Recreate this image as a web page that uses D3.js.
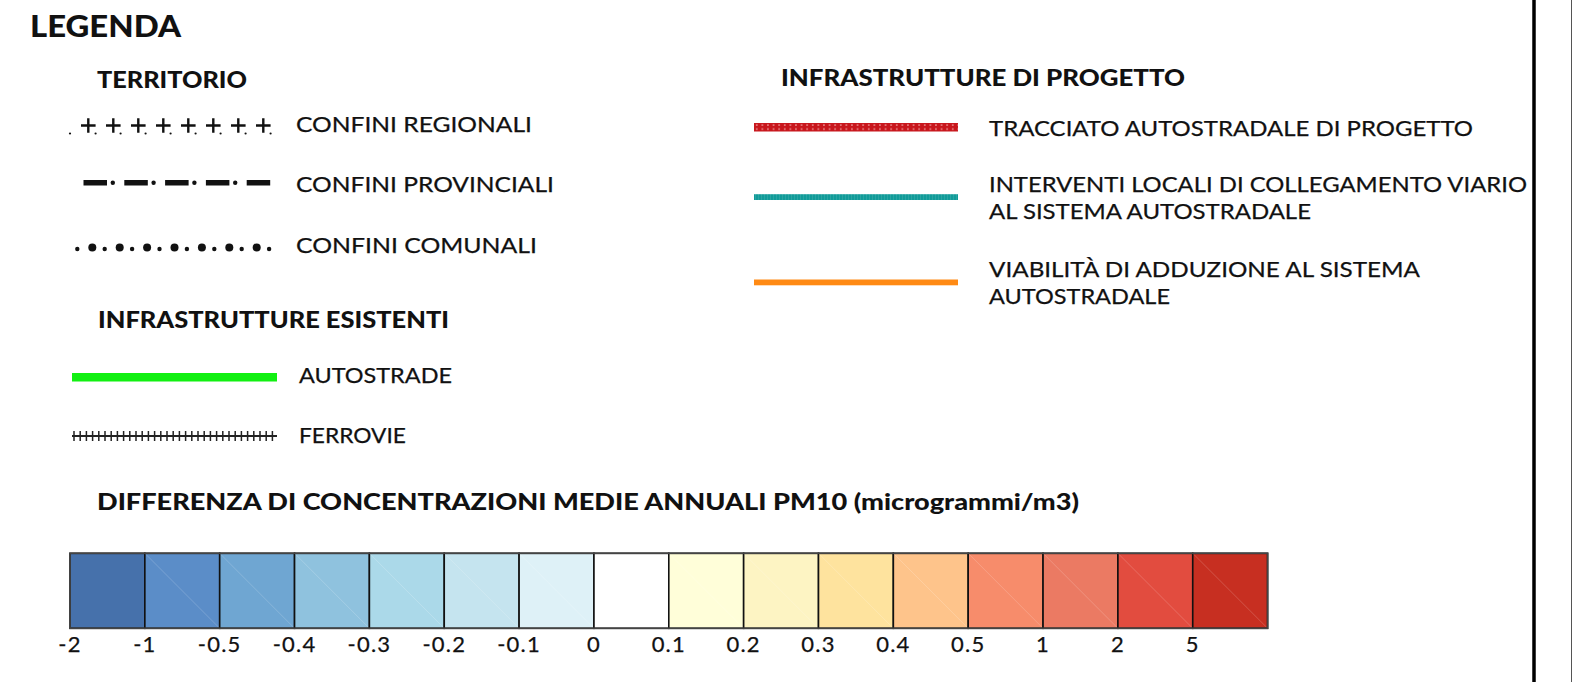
<!DOCTYPE html>
<html>
<head>
<meta charset="utf-8">
<script src="https://cdn.jsdelivr.net/npm/d3@7"></script>
<style>
  html, body { margin: 0; padding: 0; background: #fff; }
  svg { display: block; }
  text { font-family: "Lato", "DejaVu Sans", sans-serif; fill: #111; }
  .head { font-weight: 900; }
  .lbl { stroke: #111; stroke-width: 0.25; }
</style>
</head>
<body>
<script>

// ---- data ----
var legendTitle = "LEGENDA";
var territorioTitle = "TERRITORIO";
var territorioLabels = ["CONFINI REGIONALI", "CONFINI PROVINCIALI", "CONFINI COMUNALI"];
var esistentiTitle = "INFRASTRUTTURE ESISTENTI";
var esistentiLabels = ["AUTOSTRADE", "FERROVIE"];
var progettoTitle = "INFRASTRUTTURE DI PROGETTO";
var progettoLabels = [
  ["TRACCIATO AUTOSTRADALE DI PROGETTO"],
  ["INTERVENTI LOCALI DI COLLEGAMENTO VIARIO", "AL SISTEMA AUTOSTRADALE"],
  ["VIABILITÀ DI ADDUZIONE AL SISTEMA", "AUTOSTRADALE"]
];
var scaleTitle = "DIFFERENZA DI CONCENTRAZIONI MEDIE ANNUALI PM10 (microgrammi/m3)";
var classBreaks = ["-2", "-1", "-0.5", "-0.4", "-0.3", "-0.2", "-0.1", "0", "0.1", "0.2", "0.3", "0.4", "0.5", "1", "2", "5"];
var classColors = ["#4671ab", "#5b8dc8", "#6fa6d2", "#8fc2de", "#abd9e9", "#c5e4ef", "#def1f7", "#ffffff",
                   "#fffed9", "#fdf4c3", "#fee39e", "#fec48b", "#f78c6b", "#eb7a63", "#e24c3f", "#c72f21"];


var W = 1574, H = 682;

var svg = d3.select("body").append("svg")
  .attr("width", W).attr("height", H);

var defs = svg.append("defs");

// red dotted fill for the project motorway
var redPat = defs.append("pattern")
  .attr("id", "redDots")
  .attr("patternUnits", "userSpaceOnUse")
  .attr("x", 754).attr("y", 123)
  .attr("width", 5.6).attr("height", 8.5);
redPat.append("rect").attr("width", 5.6).attr("height", 8.5).attr("fill", "#c8171d");
redPat.append("rect").attr("x", 2).attr("y", 1.3).attr("width", 1.5).attr("height", 1.5).attr("fill", "#f2a0a0");
redPat.append("rect").attr("x", 2).attr("y", 5.3).attr("width", 1.5).attr("height", 1.5).attr("fill", "#f2a0a0");

var tealPat = defs.append("pattern")
  .attr("id", "tealHatch")
  .attr("patternUnits", "userSpaceOnUse")
  .attr("x", 754).attr("y", 194)
  .attr("width", 3).attr("height", 6);
tealPat.append("rect").attr("width", 3).attr("height", 6).attr("fill", "#119b99");
tealPat.append("rect").attr("x", 1).attr("width", 1).attr("height", 6).attr("fill", "#2aa5a3");


function addText(str, x, y, size, len, cls) {
  var t = svg.append("text")
    .attr("x", x).attr("y", y)
    .attr("font-size", size)
    .text(str);
  if (cls) t.attr("class", cls);
  if (len) t.attr("textLength", len).attr("lengthAdjust", "spacingAndGlyphs");
  return t;
}


// ---- headings ----
addText(legendTitle, 30, 37, 30, 151, "head");
addText(territorioTitle, 97, 87.5, 22.5, 150, "head");
addText(esistentiTitle, 98, 327.5, 22.5, 351, "head");
addText(progettoTitle, 781, 86, 22.5, 404, "head");
addText(scaleTitle, 97, 510, 22.5, 982, "head");


// ---- territorio ----
var terrRows = [132, 192, 252.5];
var terrLens = [236, 258, 241];
territorioLabels.forEach(function(lbl, i) {
  addText(lbl, 296, terrRows[i], 21.5, terrLens[i], "lbl");
});

// regional boundary: crosses with small dots
var gReg = svg.append("g").attr("stroke", "#111").attr("stroke-width", 2.4);
d3.range(8).forEach(function(i) {
  var cx = 88.3 + 25 * i, cy = 125.5;
  gReg.append("path").attr("d", "M" + (cx - 7.3) + "," + cy + "H" + (cx + 7.3) + "M" + cx + "," + (cy - 7.3) + "V" + (cy + 7.3));
  svg.append("circle").attr("cx", cx + 7.3).attr("cy", cy + 8).attr("r", 1.1).attr("fill", "#111");
});
svg.append("circle").attr("cx", 70).attr("cy", 133.5).attr("r", 1.1).attr("fill", "#111");

// provincial boundary: dash-dot
d3.range(5).forEach(function(i) {
  var x0 = 83.5 + 40.8 * i;
  svg.append("rect").attr("x", x0).attr("y", 180).attr("width", 23.5).attr("height", 5.5).attr("fill", "#111");
  if (i < 4) svg.append("circle").attr("cx", x0 + 29.3).attr("cy", 182.7).attr("r", 2.2).attr("fill", "#111");
});

// municipal boundary: big and small dots
d3.range(8).forEach(function(i) {
  svg.append("circle").attr("cx", 77.3 + 27.4 * i).attr("cy", 249).attr("r", 2.2).attr("fill", "#111");
  if (i < 7) svg.append("circle").attr("cx", 92.3 + 27.4 * i).attr("cy", 247.5).attr("r", 4).attr("fill", "#111");
});


// ---- infrastrutture esistenti ----
var esRows = [383, 443];
var esLens = [153, 107];
esistentiLabels.forEach(function(lbl, i) {
  addText(lbl, 299, esRows[i], 21.5, esLens[i], "lbl");
});

svg.append("rect").attr("x", 72).attr("y", 373).attr("width", 205).attr("height", 8.5).attr("fill", "#12f012");

svg.append("line").attr("x1", 72).attr("x2", 277).attr("y1", 436).attr("y2", 436)
  .attr("stroke", "#222").attr("stroke-width", 2);
d3.range(33).forEach(function(i) {
  var tx = 74 + 6.2 * i;
  svg.append("line").attr("x1", tx).attr("x2", tx).attr("y1", 431).attr("y2", 441)
    .attr("stroke", "#222").attr("stroke-width", 1.5);
});


// ---- infrastrutture di progetto ----
var progRows = [[135.5], [191.5, 218.5], [277, 304]];
var progLens = [[484], [538, 322], [431, 181]];
progettoLabels.forEach(function(lines, i) {
  lines.forEach(function(lbl, j) {
    addText(lbl, 989, progRows[i][j], 21.5, progLens[i][j], "lbl");
  });
});

svg.append("rect").attr("x", 754).attr("y", 123).attr("width", 204).attr("height", 8.5).attr("fill", "url(#redDots)");
svg.append("rect").attr("x", 754).attr("y", 194.2).attr("width", 204).attr("height", 5.8).attr("fill", "url(#tealHatch)");
svg.append("rect").attr("x", 754).attr("y", 279.5).attr("width", 204).attr("height", 5.8).attr("fill", "#ff8a14");


// ---- colour scale ----
var x = d3.scaleBand()
  .domain(classBreaks)
  .range([70, 1267.6])
  .paddingInner(0).paddingOuter(0);

var color = d3.scaleOrdinal().domain(classBreaks).range(classColors);

var barTop = 553.3, barH = 75;

var cells = svg.append("g").selectAll("g")
  .data(classBreaks)
  .join("g");

cells.append("rect")
  .attr("x", function(d) { return x(d); })
  .attr("y", barTop)
  .attr("width", x.bandwidth())
  .attr("height", barH)
  .attr("fill", function(d) { return color(d); })
  .attr("stroke", "#111")
  .attr("stroke-width", 1.6);

// faint diagonal seam seen in the original swatches
cells.filter(function(d, i) { return i > 0 && d !== "0"; })
  .append("line")
  .attr("x1", function(d) { return x(d) + 1; })
  .attr("y1", barTop + 1)
  .attr("x2", function(d) { return x(d) + x.bandwidth() - 1; })
  .attr("y2", barTop + barH - 1)
  .attr("stroke", "#fff")
  .attr("stroke-opacity", 0.18)
  .attr("stroke-width", 1);

svg.append("rect")
  .attr("x", 70).attr("y", barTop)
  .attr("width", x.range()[1] - 70).attr("height", barH)
  .attr("fill", "none").attr("stroke", "#444").attr("stroke-width", 1.6);

svg.append("g").selectAll("text")
  .data(classBreaks)
  .join("text")
  .attr("class", "lbl")
  .attr("x", function(d) { return x(d); })
  .attr("y", 651.5)
  .attr("text-anchor", "middle")
  .attr("font-size", 22)
  .attr("letter-spacing", 1.2)
  .text(function(d) { return d; });


// ---- frame lines on the right ----
svg.append("line").attr("x1", 1534).attr("x2", 1534).attr("y1", 0).attr("y2", H)
  .attr("stroke", "#000").attr("stroke-width", 3.5);
svg.append("line").attr("x1", 1571.5).attr("x2", 1571.5).attr("y1", 0).attr("y2", H)
  .attr("stroke", "#555").attr("stroke-width", 1);

</script>
</body>
</html>
